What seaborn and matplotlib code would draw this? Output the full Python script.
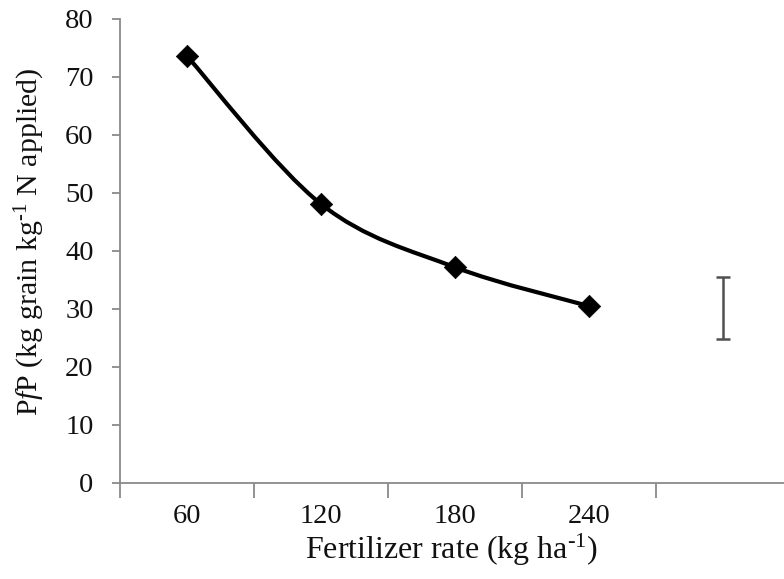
import numpy as np
import pandas as pd
import matplotlib
matplotlib.use("Agg")
import matplotlib.pyplot as plt
from matplotlib.path import Path
from matplotlib.patches import PathPatch
import seaborn as sns

# ---- data ----
rates = ["60", "120", "180", "240"]
pfp = [73.6, 48.1, 37.2, 30.5]
err_center = 30.2
err_half = 5.35
y_ticks = [0, 10, 20, 30, 40, 50, 60, 70, 80]

sns.set_theme(style="white")
plt.rcParams["font.family"] = ["Liberation Serif", "DejaVu Serif"]
plt.rcParams["mathtext.fontset"] = "custom"
plt.rcParams["mathtext.rm"] = "Liberation Serif"
plt.rcParams["mathtext.it"] = "Liberation Serif:italic"

W, H = 784, 579
fig = plt.figure(figsize=(W / 100, H / 100), dpi=100)
left, right, bottom, top = 120, 784, 483, 19
ax = fig.add_axes([left / W, 1 - bottom / H, (right - left) / W, (bottom - top) / H])

df = pd.DataFrame({"idx": np.arange(len(rates)), "pfp": pfp})
ax.set_xlim(-0.5, -0.5 + (right - left) / 134.0)
ax.set_ylim(0, 80)

# smoothed (Excel-like) line through the points via Bezier in display space
pts = ax.transData.transform(np.column_stack([df["idx"], df["pfp"]]))
n = len(pts)
verts = [pts[0]]
codes = [Path.MOVETO]
for i in range(n - 1):
    p0 = pts[i - 1] if i > 0 else pts[i]
    p1 = pts[i]
    p2 = pts[i + 1]
    p3 = pts[i + 2] if i + 2 < n else pts[i + 1]
    c1 = p1 + (p2 - p0) / 6.0
    c2 = p2 - (p3 - p1) / 6.0
    verts += [c1, c2, p2]
    codes += [Path.CURVE4] * 3
verts = ax.transData.inverted().transform(np.array(verts))
ax.add_patch(PathPatch(Path(verts, codes), facecolor="none", edgecolor="black",
                       lw=3.0, zorder=3, capstyle="round"))

sns.scatterplot(data=df, x="idx", y="pfp", marker="D", s=130, color="black",
                edgecolor="black", linewidth=0.5, zorder=4, ax=ax, legend=False)

ax.errorbar([4], [err_center], yerr=[err_half], color="#505050", lw=1.8,
            capsize=5, capthick=1.8, fmt="none", zorder=3)

# axes styling
for s in ["top", "right"]:
    ax.spines[s].set_visible(False)
for s in ["left", "bottom"]:
    ax.spines[s].set_color("#8a8a8a")
    ax.spines[s].set_linewidth(1.3)

ax.set_yticks(y_ticks)
ax.set_yticklabels([str(v) for v in y_ticks], fontsize=20.5, color="#111111")
ax.tick_params(axis="y", which="major", direction="out", length=6, width=1.3,
               color="#8a8a8a", pad=13, left=True)

ax.set_xticks([-0.5, 0.5, 1.5, 2.5, 3.5])
ax.set_xticklabels([])
ax.set_xticks(np.arange(len(rates)), minor=True)
ax.set_xticklabels(rates, minor=True, fontsize=20.5, color="#111111")
ax.tick_params(axis="x", which="major", direction="out", length=11, width=1.3,
               color="#8a8a8a", bottom=True)
ax.tick_params(axis="x", which="minor", length=0, pad=15, bottom=True)

ax.set_xlabel(r"Fertilizer rate (kg ha$^{\text{-1}}$)", fontsize=23,
              color="#111111", labelpad=2)
ax.set_ylabel(r"P$\it{f}$P (kg grain kg$^{\text{-1}}$ N applied)", fontsize=21.5,
              color="#111111")
ax.yaxis.set_label_coords(-0.11, 0.52)
ax.grid(False)

fig.savefig("out.png", dpi=100)
